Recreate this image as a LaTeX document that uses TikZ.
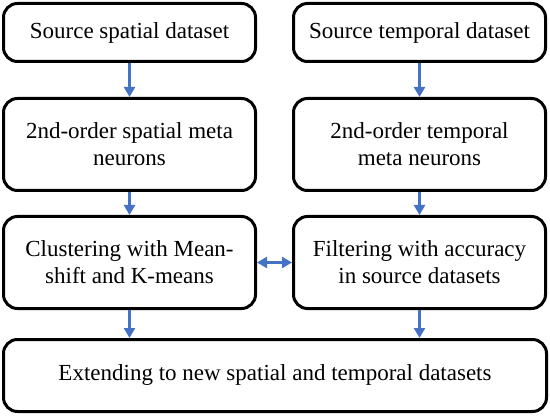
\documentclass[tikz,border=0pt]{standalone}
\usepackage{fontspec}
\setmainfont{Liberation Serif}
\usetikzlibrary{positioning}
\usetikzlibrary{shapes, arrows.meta}
\definecolor{arrowblue}{RGB}{68,114,196}

\begin{document}
\begin{tikzpicture}
[
x=1pt, y=1pt,
inner sep=2mm,
line width=3pt,
minimum width=252pt,
minimum height=58pt,
node distance = 34pt,
font=\fontsize{23}{27}\selectfont,
std1/.style={rectangle, rounded corners=14pt, fill=white, draw=black, align=center},
std2/.style={std1, minimum height=92pt},
link/.style={-{Triangle[width=11pt,length=10pt]}, arrowblue, line width=2.6pt},
dlink/.style={{Triangle[width=11pt,length=10pt]}-{Triangle[width=11pt,length=10pt]}, arrowblue, line width=2.6pt},
]
\useasboundingbox (0,0) rectangle (550,416);

\node [std1] (spsource) at (129.5,383.5) {Source spatial dataset};
\node [std1, right = 35pt of spsource] (tpsource) {Source temporal dataset};

\node [std2, below = 34pt of spsource] (spmeta) {2nd-order spatial meta\\neurons};
\node [std2, below = 34pt of tpsource] (tpmeta) {2nd-order temporal\\meta neurons};

\node [std2, below = 23pt of spmeta] (cluster) {Clustering with Mean-\\shift and K-means};
\node [std2, below = 23pt of tpmeta] (filter) {Filtering with accuracy\\in source datasets};

\node [std1, minimum width=543pt, minimum height=72pt, below = 28pt of cluster.south west, anchor=north west] (extend) {Extending to new spatial and temporal datasets};

\draw [link] (spsource) -- (spmeta);
\draw [link] (tpsource) -- (tpmeta);
\draw [link] (spmeta) -- (cluster);
\draw [link] (tpmeta) -- (filter);
\draw [dlink] (cluster) -- (filter);
\draw [link] (cluster.south) -- (cluster.south |- extend.north);
\draw [link] (filter.south) -- (filter.south |- extend.north);
\end{tikzpicture}
\end{document}
